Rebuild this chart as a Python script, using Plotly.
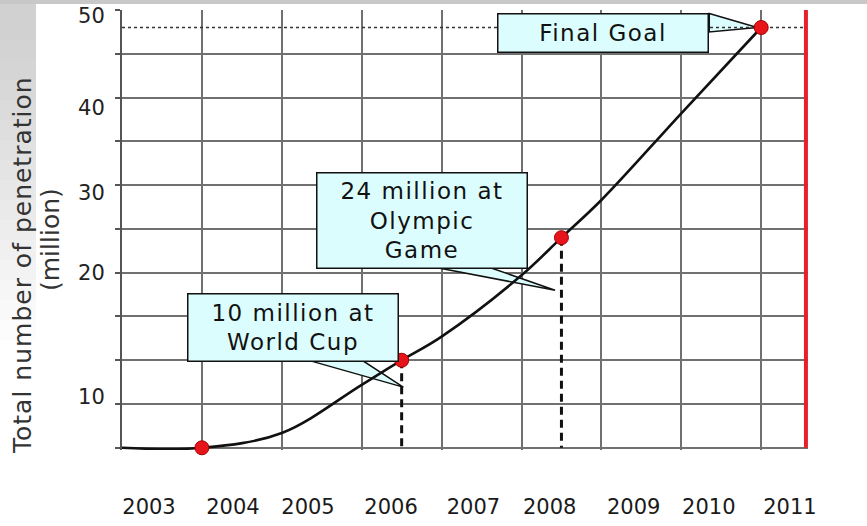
import plotly.graph_objects as go

# ---------------- data ----------------
curve_years = [2003, 2004, 2005, 2006, 2006.5, 2007, 2008, 2008.5, 2009, 2010, 2011]
curve_values = [0, 0, 1.7, 7.2, 10, 12.7, 19.7, 24, 28.3, 38.2, 48]

milestone_years = [2004.0, 2006.5, 2008.5, 2011.0]
milestone_values = [0, 10, 24, 48]

goal_value = 48
shutdown_year = 2011.56

year_labels = ["2003", "2004", "2005", "2006", "2007", "2008", "2009", "2010", "2011"]
year_label_pos = [2003.338, 2004.389, 2005.328, 2006.367, 2007.399, 2008.353, 2009.404, 2010.344, 2011.360]
grid_years = [2003, 2004, 2005, 2006, 2007, 2008, 2009, 2010, 2011]

value_labels = ["10", "20", "30", "40", "50"]
value_label_pos = [5.8, 20.0, 29.1, 38.9, 49.4]
grid_values = [0, 5, 10, 15, 20, 25, 30, 35, 40, 45, 50]

callouts = [
    dict(text="Final Goal", x=2009.02, y=47.37, w=209, h=37,
         wedge=[(2010.35, 49.6), (2010.35, 47.5), (2010.95, 48.0)]),
    dict(text="24 million at<br>Olympic<br>Game", x=2006.755, y=25.99, w=209, h=94,
         wedge=[(2006.98, 20.5), (2007.63, 20.5), (2008.42, 18.0)]),
    dict(text="10 million at<br>World Cup", x=2005.144, y=13.79, w=209, h=66,
         wedge=[(2005.37, 9.9), (2006.02, 9.9), (2006.52, 6.93)]),
]

# ---------------- layout constants ----------------
W, H = 867, 526
ML, MR, MT, MB = 122, 59, 10, 76
PW, PH = W - ML - MR, H - MT - MB
FONT = "DejaVu Sans"
GRID = "#707070"
BOX_FILL = "#dcfdfd"


def px_x(px):
    return (px - ML) / PW


def px_y(py):
    return (H - MB - py) / PH


fig = go.Figure()

# goal dotted line
fig.add_trace(go.Scatter(
    x=[grid_years[0], shutdown_year], y=[goal_value, goal_value], mode="lines",
    line=dict(color="#333333", width=1.6, dash="dot"), hoverinfo="skip"))

# dashed drop lines under the milestones
for mx, my in zip(milestone_years[1:3], milestone_values[1:3]):
    fig.add_trace(go.Scatter(
        x=[mx, mx], y=[my, 0], mode="lines", cliponaxis=False,
        line=dict(color="#111111", width=3, dash="8px,5px"), hoverinfo="skip"))

# main curve
fig.add_trace(go.Scatter(
    x=curve_years, y=curve_values, mode="lines", cliponaxis=False,
    line=dict(color="#111111", width=2.6, shape="spline", smoothing=1.0),
    hoverinfo="skip"))

# shutdown red line
fig.add_trace(go.Scatter(
    x=[shutdown_year, shutdown_year], y=[grid_values[0], grid_values[-1]], mode="lines",
    line=dict(color="#e8202a", width=4), hoverinfo="skip", cliponaxis=False))

# milestone markers
fig.add_trace(go.Scatter(
    x=milestone_years, y=milestone_values, mode="markers",
    marker=dict(size=14, color="#e8141c", line=dict(color="#a00000", width=1)),
    cliponaxis=False, hoverinfo="skip"))

shapes = []
# background decorations: top band and left gradient strip
shapes.append(dict(type="rect", xref="paper", yref="paper",
                   x0=px_x(0), x1=px_x(W), y0=px_y(4), y1=px_y(0),
                   fillcolor="#c8c8c8", line=dict(width=0), layer="below"))
for i in range(16):
    bottom = 40 + i * 20
    shapes.append(dict(type="rect", xref="paper", yref="paper",
                       x0=px_x(0), x1=px_x(36), y0=px_y(bottom), y1=px_y(4),
                       fillcolor="#808080", opacity=0.025, line=dict(width=0), layer="below"))

annotations = []
for c in callouts:
    (x0, y0), (x1, y1), (xt, yt) = c["wedge"]
    shapes.append(dict(type="path", xref="x", yref="y",
                       path=f"M {x0},{y0} L {xt},{yt} L {x1},{y1} Z",
                       fillcolor=BOX_FILL, line=dict(color="#111111", width=1.5),
                       layer="between"))
    annotations.append(dict(
        x=c["x"], y=c["y"], xref="x", yref="y", showarrow=False,
        text=f'<span style="letter-spacing:1.5px">{c["text"]}</span>',
        font=dict(family=FONT, size=23, color="#111111"),
        bgcolor=BOX_FILL, bordercolor="#111111", borderwidth=1.5, borderpad=0,
        width=c["w"], height=c["h"], align="center", valign="middle",
        xanchor="center", yanchor="middle"))

# y axis title (two lines)
annotations.append(dict(
    x=px_x(22), y=px_y(265), xref="paper", yref="paper", showarrow=False,
    text='<span style="letter-spacing:1px">Total number of penetration</span>',
    textangle=-90, font=dict(family=FONT, size=25, color="#333333"),
    xanchor="center", yanchor="middle"))
annotations.append(dict(
    x=px_x(50), y=px_y(240), xref="paper", yref="paper", showarrow=False,
    text="(million)", textangle=-90, font=dict(family=FONT, size=25, color="#333333"),
    xanchor="center", yanchor="middle"))

fig.update_layout(
    width=W, height=H,
    margin=dict(l=ML, r=MR, t=MT, b=MB, pad=0, autoexpand=False),
    paper_bgcolor="white", plot_bgcolor="white",
    showlegend=False,
    shapes=shapes, annotations=annotations,
    xaxis=dict(
        automargin=False, layer="below traces",
        range=[grid_years[0], grid_years[0] + 686 / 79.9],
        tickmode="array", tickvals=year_label_pos, ticktext=year_labels,
        ticks="", showgrid=False, zeroline=False,
        ticklabelstandoff=42,
        tickfont=dict(family=FONT, size=21, color="#1a1a1a"),
        showline=False,
        minor=dict(tickmode="array", tickvals=grid_years, showgrid=True,
                   gridcolor=GRID, gridwidth=1.5, ticks=""),
    ),
    yaxis=dict(
        automargin=False, layer="below traces",
        range=[-0.25, grid_values[-1]],
        tickmode="array", tickvals=value_label_pos, ticktext=value_labels,
        ticks="", showgrid=False, zeroline=False,
        ticklabelstandoff=11,
        tickfont=dict(family=FONT, size=21, color="#222222"),
        showline=True, linecolor="#555555", linewidth=2,
        minor=dict(tickmode="array", tickvals=grid_values, showgrid=True,
                   gridcolor=GRID, gridwidth=1.5, ticks="outside", ticklen=5,
                   tickcolor="#555555", tickwidth=1.5),
    ),
)

fig.write_html("out.html")
